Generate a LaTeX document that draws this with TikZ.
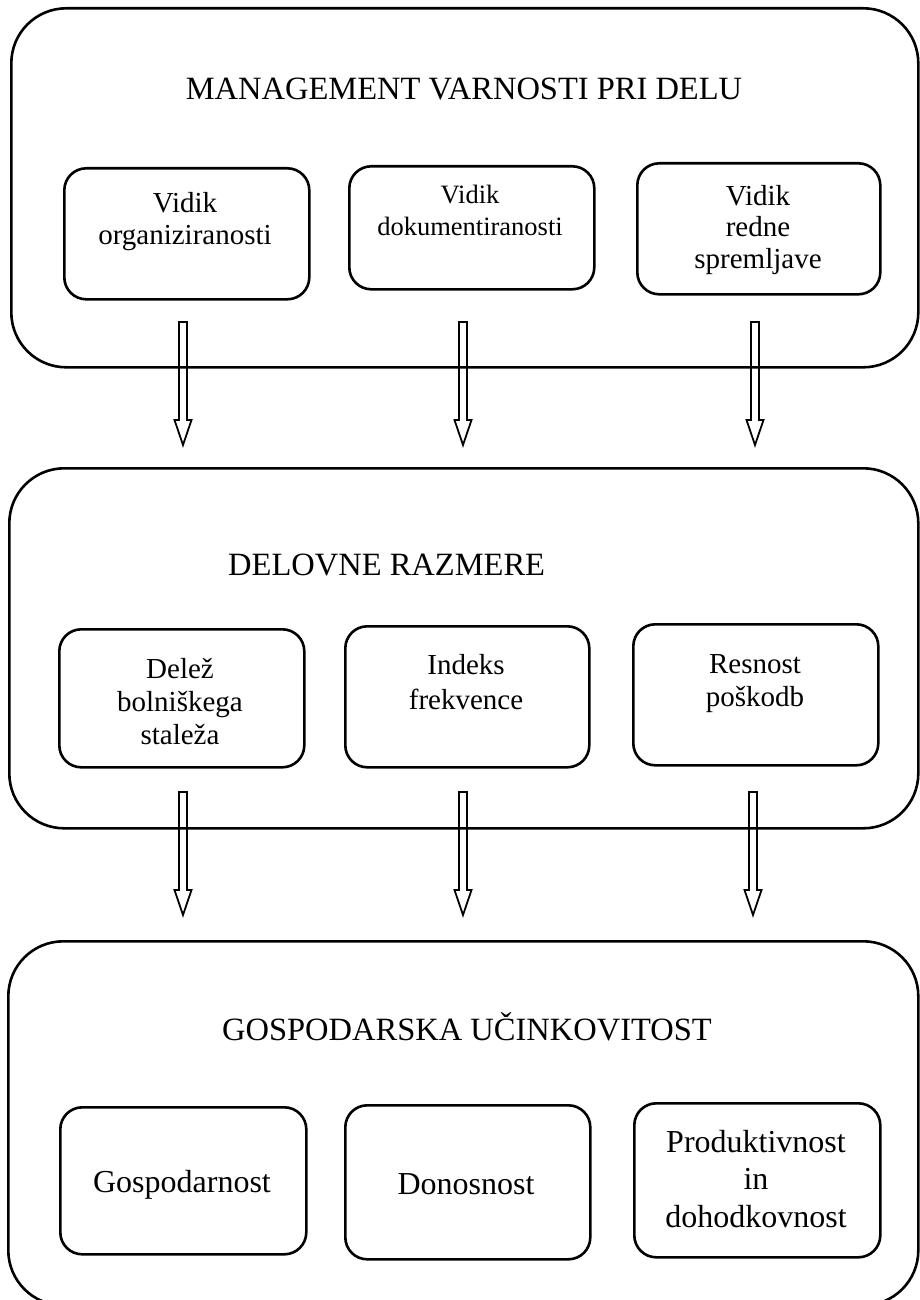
\documentclass[tikz,border=0pt]{standalone}
\usepackage{fontspec}
\setmainfont{Liberation Serif}
\usetikzlibrary{calc}
\begin{document}
\begin{tikzpicture}[x=1pt,y=-1pt,
  outerbox/.style={draw,line width=2.6pt,rounded corners=55pt,inner sep=0pt,anchor=north west},
  innerbox/.style={draw,line width=2.6pt,rounded corners=22pt,inner sep=0pt,anchor=north west},
  title/.style={inner sep=0pt,font=\fontsize{32.5pt}{36pt}\selectfont},
  lbl/.style={inner sep=0pt,align=center,anchor=north,font=\fontsize{29pt}{32pt}\selectfont},
  lblbig/.style={inner sep=0pt,align=center,font=\fontsize{32pt}{37.5pt}\selectfont},
  barrow/.style={draw,line width=1.8pt,miter limit=10}]
\useasboundingbox (0,0) rectangle (919,1300);
\newcommand\blockarrow[2]{%
  \draw[barrow] let \p1=(#1), \p2=(#2) in
    (\x1-4pt,\y1) -- (\x1+4pt,\y1) -- (\x1+4pt,\y2+25pt) -- (\x1+8.5pt,\y2+25pt)
    -- (\x1,\y2) -- (\x1-8.5pt,\y2+25pt) -- (\x1-4pt,\y2+25pt) -- cycle;}

% outer boxes
\node[outerbox,minimum width=907pt,minimum height=359pt] (O1) at (10,7) {};
\node[outerbox,minimum width=909pt,minimum height=360pt] (O2) at (8,467) {};
\node[outerbox,minimum width=910pt,minimum height=364pt] (O3) at (7,940) {};

% titles
\node[title,anchor=base] (T1) at (464,100) {MANAGEMENT VARNOSTI PRI DELU};
\node[title,anchor=base west] (T2) at (228,575) {DELOVNE RAZMERE};
\node[title,anchor=base] (T3) at (467,1040) {GOSPODARSKA UČINKOVITOST};

% row 1
\node[innerbox,minimum width=245pt,minimum height=131pt] (A) at (63,167) {};
\node[innerbox,minimum width=245pt,minimum height=123pt] (B) at (348,165) {};
\node[innerbox,minimum width=243pt,minimum height=131pt] (C) at (636,162) {};
\node[lbl] (At) at (185,192) {Vidik\\organiziranosti};
\node[lbl,font=\fontsize{26.5pt}{32pt}\selectfont] (Bt) at (470,185) {Vidik\\dokumentiranosti};
\node[lbl,font=\fontsize{29pt}{31.5pt}\selectfont] (Ct) at (758,185) {Vidik\\redne\\spremljave};

% row 2
\node[innerbox,minimum width=245pt,minimum height=138pt] (D) at (58,628) {};
\node[innerbox,minimum width=244pt,minimum height=141pt] (E) at (344,625) {};
\node[innerbox,minimum width=245pt,minimum height=141pt] (F) at (632,623) {};
\node[lbl,font=\fontsize{29pt}{33pt}\selectfont] (Dt) at (180,658) {Delež\\bolniškega\\staleža};
\node[lbl,font=\fontsize{29pt}{35pt}\selectfont] (Et) at (466,654) {Indeks\\frekvence};
\node[lbl,font=\fontsize{29pt}{33pt}\selectfont] (Ft) at (755,654) {Resnost\\poškodb};

% row 3
\node[innerbox,minimum width=246pt,minimum height=147pt] (G) at (59,1106) {};
\node[innerbox,minimum width=245pt,minimum height=154pt] (H) at (344,1104) {};
\node[innerbox,minimum width=246pt,minimum height=154pt] (I) at (633,1102) {};
\node[lblbig,anchor=base] (Gt) at (182,1192) {Gospodarnost};
\node[lblbig,anchor=base] (Ht) at (466,1194) {Donosnost};
\node[lblbig,anchor=north] (It) at (756,1130) {Produktivnost\\in\\dohodkovnost};

% arrows
\coordinate (a1s) at (183,322); \coordinate (a1e) at (183,445);
\coordinate (a2s) at (463,322); \coordinate (a2e) at (463,445);
\coordinate (a3s) at (755,322); \coordinate (a3e) at (755,445);
\coordinate (b1s) at (183,792); \coordinate (b1e) at (183,915);
\coordinate (b2s) at (463,792); \coordinate (b2e) at (463,915);
\coordinate (b3s) at (753,792); \coordinate (b3e) at (753,915);
\blockarrow{a1s}{a1e}
\blockarrow{a2s}{a2e}
\blockarrow{a3s}{a3e}
\blockarrow{b1s}{b1e}
\blockarrow{b2s}{b2e}
\blockarrow{b3s}{b3e}
\end{tikzpicture}
\end{document}
